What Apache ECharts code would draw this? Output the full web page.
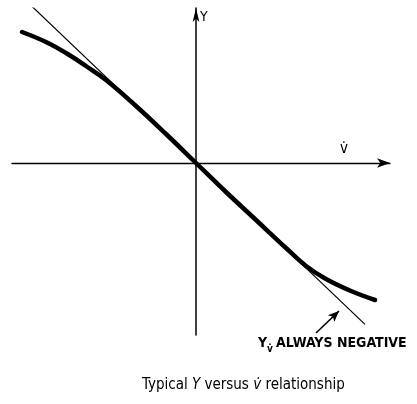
<!DOCTYPE html>
<html>
<head>
<meta charset="utf-8">
<script src="https://cdn.jsdelivr.net/npm/echarts@6/dist/echarts.min.js"></script>
<style>
  html, body { margin: 0; padding: 0; background: #fff; }
  #chart { width: 417px; height: 404px; }
</style>
</head>
<body>
<div id="chart"></div>
<script>
// Side force Y as a function of v-dot: steep through the origin, flattening at the ends
const vdot = [-1.74, -1.5, -1.3, -1.1, -0.9, -0.6, -0.3, 0, 0.3, 0.6, 0.9, 1.1, 1.3, 1.55, 1.79];
const sideForce = [1.31, 1.21, 1.10, 0.97, 0.83, 0.57, 0.29, 0, -0.29, -0.57, -0.85, -1.03, -1.16, -1.28, -1.37];

// Linear slope (Y sub v-dot) through the origin
const slopeX = [-1.64, 1.69];
const slopeY = [1.566, -1.614];

// Pointer from the note to the slope line
const pointerFrom = [1.20, -1.70];
const pointerTo = [1.43, -1.48];

const font = '"DejaVu Sans Condensed", "DejaVu Sans", sans-serif';

const chart = echarts.init(document.getElementById('chart'), null, { renderer: 'canvas' });

const axisCommon = {
  type: 'value',
  axisTick: { show: false },
  axisLabel: { show: false },
  splitLine: { show: false }
};

chart.setOption({
  animation: false,
  backgroundColor: '#ffffff',
  grid: { left: 12, right: 27, top: 8, bottom: 69 },
  xAxis: Object.assign({}, axisCommon, {
    min: -1.84, max: 1.94,
    axisLine: {
      show: true, onZero: true,
      symbol: ['none', 'arrow'], symbolSize: [7, 13],
      lineStyle: { color: '#000', width: 1.3 }
    }
  }),
  yAxis: Object.assign({}, axisCommon, {
    min: -1.72, max: 1.55,
    axisLine: {
      show: true, onZero: true,
      symbol: ['none', 'arrow'], symbolSize: [5, 14],
      lineStyle: { color: '#000', width: 1.5 }
    }
  }),
  series: [
    {
      type: 'line',
      data: slopeX.map((x, i) => [x, slopeY[i]]),
      showSymbol: false,
      lineStyle: { color: '#000', width: 1.2 },
      markLine: {
        silent: true,
        symbol: ['none', 'arrow'],
        symbolSize: [7, 11],
        label: { show: false },
        lineStyle: { color: '#000', width: 1.6, type: 'solid' },
        data: [[{ coord: pointerFrom }, { coord: pointerTo }]]
      }
    },
    {
      type: 'line',
      data: vdot.map((x, i) => [x, sideForce[i]]),
      smooth: 0.4,
      showSymbol: false,
      lineStyle: { color: '#000', width: 4.5, cap: 'round' }
    }
  ],
  graphic: [
    { type: 'text', left: 200, top: 10,
      style: { text: 'Y', font: '14px ' + font, fill: '#000' } },
    { type: 'text', left: 340, top: 142,
      style: { text: 'v\u0307', font: '15px ' + font, fill: '#000' } },
    { type: 'text', left: 258, top: 336,
      style: { text: 'Y', font: 'bold 14px ' + font, fill: '#000' } },
    { type: 'text', left: 267, top: 344,
      style: { text: 'v\u0307', font: 'bold 10px ' + font, fill: '#000' } },
    { type: 'text', left: 276, top: 336,
      style: { text: 'ALWAYS NEGATIVE', font: 'bold 14px ' + font, fill: '#000' } },
    { type: 'text', left: 142, top: 378,
      style: {
        rich: {
          n: { font: '15px ' + font, fill: '#000' },
          i: { font: 'italic 15px ' + font, fill: '#000' }
        },
        text: '{n|Typical }{i|Y}{n| versus }{i|v\u0307}{n| relationship}'
      } }
  ]
});
</script>
</body>
</html>
